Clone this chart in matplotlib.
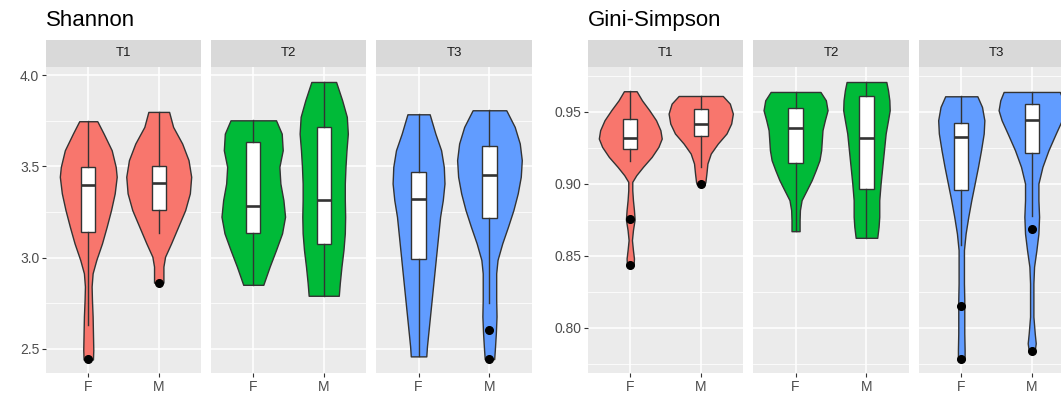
#!/usr/bin/env python3
"""
Violin + box plots of Shannon and Gini-Simpson diversity by sex, faceted by time point.
Drawn in a ggplot2-like style with matplotlib.
"""
import matplotlib
matplotlib.use("Agg")
import matplotlib.pyplot as plt
import numpy as np

plt.rcParams['font.family'] = ['Liberation Sans', 'DejaVu Sans']

TIMES = ['T1', 'T2', 'T3']
SEXES = ['F', 'M']
COLORS = ['#F8766D', '#00BA38', '#619CFF']

# ---- Shannon: violin profiles (y level, relative density) ----
SH_T1_F_Y = [3.747, 3.679, 3.588, 3.497, 3.443, 3.352, 3.260, 3.169, 3.078, 2.987, 2.914, 2.842, 2.769, 2.678, 2.587, 2.495, 2.442]
SH_T1_F_D = [0.27, 0.46, 0.70, 0.82, 0.85, 0.79, 0.68, 0.55, 0.41, 0.24, 0.13, 0.10, 0.11, 0.13, 0.14, 0.15, 0.14]
SH_T1_M_Y = [3.798, 3.716, 3.625, 3.534, 3.443, 3.352, 3.260, 3.169, 3.078, 3.005, 2.951, 2.878, 2.863]
SH_T1_M_D = [0.31, 0.43, 0.70, 0.89, 0.97, 0.93, 0.79, 0.58, 0.37, 0.19, 0.14, 0.14, 0.14]
SH_T2_F_Y = [3.752, 3.679, 3.588, 3.497, 3.406, 3.315, 3.224, 3.133, 3.042, 2.951, 2.851]
SH_T2_F_D = [0.68, 0.85, 0.88, 0.78, 0.81, 0.90, 0.95, 0.86, 0.68, 0.49, 0.30]
SH_T2_M_Y = [3.962, 3.862, 3.771, 3.679, 3.588, 3.497, 3.406, 3.315, 3.224, 3.133, 3.042, 2.951, 2.860, 2.791]
SH_T2_M_D = [0.37, 0.55, 0.69, 0.72, 0.68, 0.65, 0.63, 0.63, 0.64, 0.63, 0.59, 0.53, 0.48, 0.45]
SH_T3_F_Y = [3.785, 3.679, 3.588, 3.497, 3.406, 3.315, 3.224, 3.133, 3.042, 2.951, 2.860, 2.769, 2.678, 2.587, 2.514, 2.459]
SH_T3_F_D = [0.33, 0.50, 0.67, 0.75, 0.77, 0.72, 0.64, 0.59, 0.54, 0.49, 0.44, 0.39, 0.34, 0.29, 0.25, 0.23]
SH_T3_M_Y = [3.807, 3.716, 3.625, 3.534, 3.443, 3.352, 3.260, 3.169, 3.078, 2.987, 2.914, 2.842, 2.769, 2.678, 2.587, 2.495, 2.444]
SH_T3_M_D = [0.50, 0.75, 0.90, 0.96, 0.93, 0.84, 0.71, 0.55, 0.38, 0.24, 0.20, 0.20, 0.20, 0.21, 0.19, 0.16, 0.14]

# Shannon box stats, [time][sex]
SH_WHISLO = [[2.632, 3.133], [2.851, 2.791], [2.459, 2.750]]
SH_Q1 = [[3.138, 3.260], [3.137, 3.075], [2.991, 3.215]]
SH_MED = [[3.397, 3.406], [3.284, 3.315], [3.321, 3.452]]
SH_Q3 = [[3.497, 3.501], [3.634, 3.716], [3.470, 3.610]]
SH_WHISHI = [[3.747, 3.798], [3.752, 3.962], [3.785, 3.807]]
SH_FLIERS = [[[2.442], [2.863]], [[], []], [[], [2.605, 2.444]]]

# ---- Gini-Simpson: violin profiles ----
GS_T1_F_Y = [0.9641, 0.9578, 0.9509, 0.9440, 0.9371, 0.9313, 0.9255, 0.9186, 0.9117, 0.9059,
             0.9013, 0.8955, 0.8886, 0.8817, 0.8752, 0.8678, 0.8609, 0.8540, 0.8482, 0.8436]
GS_T1_F_D = [0.19, 0.35, 0.57, 0.77, 0.90, 0.94, 0.84, 0.64, 0.38, 0.18,
             0.06, 0.06, 0.08, 0.11, 0.13, 0.08, 0.05, 0.08, 0.11, 0.10]
GS_T1_M_Y = [0.9608, 0.9555, 0.9486, 0.9417, 0.9348, 0.9278, 0.9209, 0.9140, 0.9071, 0.9013, 0.8997]
GS_T1_M_D = [0.66, 0.87, 0.96, 0.91, 0.77, 0.51, 0.30, 0.20, 0.17, 0.14, 0.12]
GS_T2_F_Y = [0.9636, 0.9578, 0.9509, 0.9440, 0.9371, 0.9302, 0.9232, 0.9163, 0.9094, 0.9025,
             0.8955, 0.8886, 0.8817, 0.8748, 0.8671]
GS_T2_F_D = [0.74, 0.90, 0.95, 0.87, 0.80, 0.78, 0.76, 0.71, 0.60, 0.48, 0.33, 0.18, 0.13, 0.12, 0.12]
GS_T2_M_Y = [0.9705, 0.9648, 0.9578, 0.9509, 0.9440, 0.9348, 0.9232, 0.9117, 0.9001, 0.8886,
             0.8771, 0.8702, 0.8625]
GS_T2_M_D = [0.59, 0.64, 0.68, 0.69, 0.64, 0.57, 0.52, 0.47, 0.42, 0.38, 0.38, 0.36, 0.32]
GS_T3_F_Y = [0.9606, 0.9532, 0.9440, 0.9348, 0.9232, 0.9117, 0.9001, 0.8886, 0.8771, 0.8655,
             0.8540, 0.8425, 0.8309, 0.8194, 0.8078, 0.7963, 0.7848, 0.7783]
GS_T3_F_D = [0.48, 0.62, 0.69, 0.67, 0.59, 0.50, 0.40, 0.30, 0.21, 0.13,
             0.08, 0.08, 0.08, 0.09, 0.09, 0.09, 0.10, 0.10]
GS_T3_M_Y = [0.9636, 0.9578, 0.9509, 0.9440, 0.9348, 0.9232, 0.9117, 0.9001, 0.8886, 0.8771,
             0.8655, 0.8540, 0.8425, 0.8309, 0.8194, 0.8078, 0.7963, 0.7894, 0.7843]
GS_T3_M_D = [0.84, 0.94, 0.99, 0.90, 0.72, 0.50, 0.32, 0.20, 0.20, 0.22,
             0.20, 0.14, 0.07, 0.05, 0.05, 0.05, 0.09, 0.12, 0.09]

GS_WHISLO = [[0.9158, 0.9117], [0.8671, 0.8625], [0.8575, 0.8775]]
GS_Q1 = [[0.9244, 0.9329], [0.9147, 0.8960], [0.8955, 0.9214]]
GS_MED = [[0.9318, 0.9417], [0.9387, 0.9318], [0.9325, 0.9440]]
GS_Q3 = [[0.9447, 0.9516], [0.9525, 0.9606], [0.9424, 0.9555]]
GS_WHISHI = [[0.9641, 0.9608], [0.9636, 0.9705], [0.9606, 0.9636]]
GS_FLIERS = [[[0.8752, 0.8436], [0.8997]], [[], []], [[0.8152, 0.7783], [0.8685, 0.7843]]]

# figure layout (pixels)
W, H = 1061, 398
STRIP_TOP, PANEL_TOP, PANEL_BOTTOM = 40, 67, 373
SH_PANELS_X = [(46, 201), (211, 366), (376, 532)]
GS_PANELS_X = [(588, 743), (753, 909), (919, 1074)]
MAX_WIDTH = 0.95
GREY20 = '#333333'


def px_axes(fig, x0, y0, x1, y1):
    """Add axes given pixel box (top-left origin)."""
    return fig.add_axes([x0 / W, 1 - y1 / H, (x1 - x0) / W, (y1 - y0) / H])


def draw_facet(ax, violins, boxes, color, ylim, majors, minors, show_y):
    """Draw violins with boxplots on a ggplot-like panel."""
    ax.set_facecolor('#EBEBEB')
    for s in ax.spines.values():
        s.set_visible(False)

    vpstats, widths = [], []
    for y, d in violins:
        y = np.asarray(y)[::-1]
        d = np.asarray(d)[::-1]
        vpstats.append(dict(coords=y, vals=d, mean=np.median(y), median=np.median(y),
                            min=y.min(), max=y.max()))
        widths.append(d.max() * MAX_WIDTH)
    parts = ax.violin(vpstats, positions=[1, 2], widths=widths, showextrema=False)
    for body in parts['bodies']:
        body.set_facecolor(color)
        body.set_edgecolor(GREY20)
        body.set_alpha(1)
        body.set_linewidth(1.0)
        body.set_zorder(2)

    ax.bxp(boxes, positions=[1, 2], widths=0.2, patch_artist=True, showcaps=False,
           manage_ticks=False,
           boxprops=dict(facecolor='white', edgecolor=GREY20, linewidth=1.0),
           whiskerprops=dict(color=GREY20, linewidth=1.0),
           medianprops=dict(color=GREY20, linewidth=1.9),
           flierprops=dict(marker='o', markerfacecolor='black', markeredgecolor='black',
                           markersize=5.5),
           zorder=3)

    ax.set_xlim(0.4, 2.6)
    ax.set_ylim(*ylim)
    ax.set_xticks([1, 2])
    ax.set_xticklabels(SEXES)
    ax.set_yticks(majors)
    ax.set_yticks(minors, minor=True)
    ax.set_axisbelow(True)
    ax.grid(which='major', color='white', linewidth=1.1)
    ax.grid(which='minor', color='white', linewidth=0.55)
    ax.tick_params(which='minor', length=0)
    ax.tick_params(which='major', length=2.9, width=0.8, color=GREY20,
                   labelcolor='#4D4D4D', labelsize=10, pad=2)
    if not show_y:
        ax.tick_params(axis='y', which='both', left=False, labelleft=False)


def draw_strip(fig, x0, x1, label):
    sax = px_axes(fig, x0, STRIP_TOP, x1, PANEL_TOP)
    sax.set_facecolor('#D9D9D9')
    sax.set_xticks([])
    sax.set_yticks([])
    for s in sax.spines.values():
        s.set_visible(False)
    sax.text(0.5, 0.5, label, ha='center', va='center', transform=sax.transAxes,
             fontsize=9.5, color='#1A1A1A')


def build(ys, ds, whislo, q1, med, q3, whishi, fliers):
    """Collect violin profiles and box stats for each time point."""
    out = []
    for t in range(3):
        vio = [(ys[t][k], ds[t][k]) for k in range(2)]
        box = [dict(whislo=whislo[t][k], q1=q1[t][k], med=med[t][k], q3=q3[t][k],
                    whishi=whishi[t][k], fliers=fliers[t][k]) for k in range(2)]
        out.append((vio, box))
    return out


def main():
    fig = plt.figure(figsize=(W / 100, H / 100), dpi=100)

    sh = build([[SH_T1_F_Y, SH_T1_M_Y], [SH_T2_F_Y, SH_T2_M_Y], [SH_T3_F_Y, SH_T3_M_Y]],
               [[SH_T1_F_D, SH_T1_M_D], [SH_T2_F_D, SH_T2_M_D], [SH_T3_F_D, SH_T3_M_D]],
               SH_WHISLO, SH_Q1, SH_MED, SH_Q3, SH_WHISHI, SH_FLIERS)
    gs = build([[GS_T1_F_Y, GS_T1_M_Y], [GS_T2_F_Y, GS_T2_M_Y], [GS_T3_F_Y, GS_T3_M_Y]],
               [[GS_T1_F_D, GS_T1_M_D], [GS_T2_F_D, GS_T2_M_D], [GS_T3_F_D, GS_T3_M_D]],
               GS_WHISLO, GS_Q1, GS_MED, GS_Q3, GS_WHISHI, GS_FLIERS)

    for t, (x0, x1) in enumerate(SH_PANELS_X):
        ax = px_axes(fig, x0, PANEL_TOP, x1, PANEL_BOTTOM)
        draw_facet(ax, sh[t][0], sh[t][1], COLORS[t], (2.368, 4.044),
                   [2.5, 3.0, 3.5, 4.0], [2.75, 3.25, 3.75], t == 0)
        if t == 0:
            ax.set_yticklabels(['2.5', '3.0', '3.5', '4.0'])
        draw_strip(fig, x0, x1, TIMES[t])

    for t, (x0, x1) in enumerate(GS_PANELS_X):
        ax = px_axes(fig, x0, PANEL_TOP, x1, PANEL_BOTTOM)
        draw_facet(ax, gs[t][0], gs[t][1], COLORS[t], (0.7688, 0.9809),
                   [0.80, 0.85, 0.90, 0.95], [0.775, 0.825, 0.875, 0.925, 0.975], t == 0)
        if t == 0:
            ax.set_yticklabels(['0.80', '0.85', '0.90', '0.95'])
        draw_strip(fig, x0, x1, TIMES[t])

    fig.text(46 / W, 1 - 26 / H, 'Shannon', fontsize=16, color='black', va='baseline')
    fig.text(588 / W, 1 - 26 / H, 'Gini-Simpson', fontsize=16, color='black', va='baseline')

    fig.savefig('out.png', dpi=100, facecolor='white')
    plt.close(fig)


if __name__ == "__main__":
    main()
